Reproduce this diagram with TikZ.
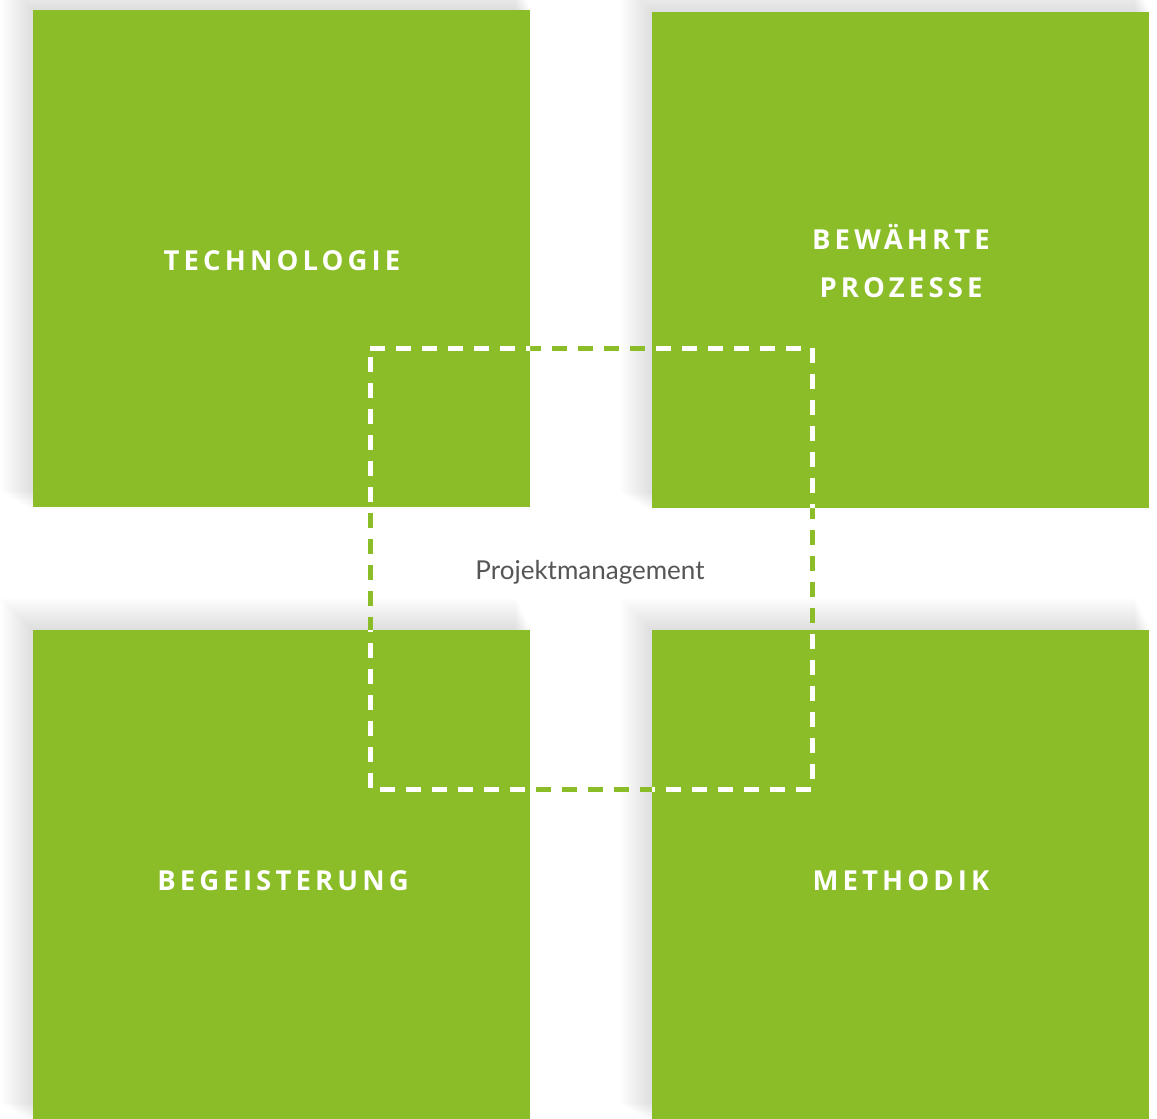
\documentclass[tikz,border=0pt]{standalone}
\usepackage{fontspec}
\setmainfont{Open Sans}
\newfontfamily\labelfont[LetterSpace=15]{Open Sans}
\newfontfamily\pmfont{Lato}
\begin{document}
\begin{tikzpicture}[x=1pt,y=-1pt,
  tile/.style={fill=tilegreen,draw=none},
  tilelabel/.style={text=white,font=\labelfont\bfseries\fontsize{27.5}{48}\selectfont,align=center,inner sep=0pt},
  dashframe/.style={line width=5pt,dash pattern=on 15pt off 11pt,dash phase=0pt}
]
\definecolor{tilegreen}{HTML}{8ABD28}
\definecolor{pmgray}{HTML}{555555}
\useasboundingbox (0,0) rectangle (1157,1119);
\fill[white] (0,0) rectangle (1157,1119);
% soft shadows
\foreach \r in {2,4,...,32}{
  \foreach \xa/\ya/\xb/\yb in {33/10/530/507, 652/12/1149/508, 33/630/530/1119, 652/630/1149/1119}{
    \fill[black,opacity=0.0065] (\xa-\r,\ya-\r) rectangle (\xb+2-\r*0.5,\yb+4-\r*0.6);
  }
}
\node[tile,minimum width=497pt,minimum height=497pt,anchor=north west,inner sep=0pt] (tl) at (33,10) {};
\node[tile,minimum width=497pt,minimum height=496pt,anchor=north west,inner sep=0pt] (tr) at (652,12) {};
\node[tile,minimum width=497pt,minimum height=489pt,anchor=north west,inner sep=0pt] (bl) at (33,630) {};
\node[tile,minimum width=497pt,minimum height=489pt,anchor=north west,inner sep=0pt] (br) at (652,630) {};
\coordinate (f1) at (370,348);
\coordinate (f2) at (812,789);
% green dashes everywhere
\draw[dashframe,draw=tilegreen] (f1) -- (f1 -| f2) -- (f2) -- (f1 |- f2) -- cycle;
% white dashes over the tiles
\begin{scope}
\clip (33,10) rectangle (530,507) (652,12) rectangle (1149,508) (33,630) rectangle (530,1119) (652,630) rectangle (1149,1119);
\draw[dashframe,draw=white] (f1) -- (f1 -| f2) -- (f2) -- (f1 |- f2) -- cycle;
\end{scope}
\node[tilelabel] (t1) at (282,261) {TECHNOLOGIE};
\node[tilelabel] (t2) at (901,261) {BEWÄHRTE\\PROZESSE};
\node[tilelabel] (t3) at (283,881) {BEGEISTERUNG};
\node[tilelabel] (t4) at (901,881) {METHODIK};
\node[text=pmgray,font=\pmfont\fontsize{26}{30}\selectfont,inner sep=0pt] (pm) at (590,572) {Projektmanagement};
\end{tikzpicture}
\end{document}
